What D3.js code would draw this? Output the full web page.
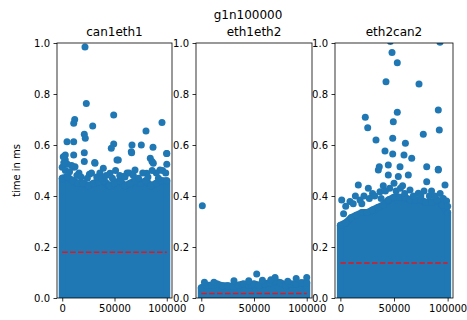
<!DOCTYPE html>
<html>
<head>
<meta charset="utf-8">
<script src="https://cdn.jsdelivr.net/npm/d3@7"></script>
<style>
  body { margin: 0; background: #fff; }
  svg { display: block; font-family: "DejaVu Sans", sans-serif; }
</style>
</head>
<body>
<div id="chart"></div>
<script>
// chart data
const suptitle = "g1n100000";
const panelNames = ["can1eth1", "eth1eth2", "eth2can2"];
const yTicks = [0, 0.2, 0.4, 0.6, 0.8, 1.0];
const xTicks = [0, 50000, 100000];

// upper edge of the dense cloud, sampled every 5000 samples
const bandX = [0, 5000, 10000, 15000, 20000, 25000, 30000, 35000, 40000, 45000, 50000,
  55000, 60000, 65000, 70000, 75000, 80000, 85000, 90000, 95000, 100000];
const can1eth1Band = [0.47, 0.475, 0.46, 0.45, 0.45, 0.44, 0.45, 0.455, 0.46, 0.44, 0.45,
  0.46, 0.44, 0.45, 0.46, 0.45, 0.46, 0.44, 0.45, 0.46, 0.46];
const eth1eth2Band = [0.04, 0.05, 0.05, 0.055, 0.048, 0.048, 0.045, 0.05, 0.055, 0.05, 0.055,
  0.05, 0.055, 0.06, 0.065, 0.06, 0.05, 0.055, 0.055, 0.06, 0.06];
const eth2can2Band = [0.285, 0.295, 0.315, 0.325, 0.335, 0.335, 0.345, 0.355, 0.365, 0.385, 0.395,
  0.395, 0.395, 0.385, 0.385, 0.385, 0.375, 0.375, 0.385, 0.365, 0.335];

// isolated samples above the cloud [sample, ms]
const can1eth1Points = [
  [21780, 0.984], [23030, 0.763], [11930, 0.70], [11000, 0.685], [49230, 0.718],
  [29150, 0.675], [95430, 0.688], [80130, 0.655], [21110, 0.642], [22070, 0.626],
  [4570, 0.613], [10970, 0.613], [49230, 0.604], [46940, 0.587], [66740, 0.60],
  [75640, 0.60], [86830, 0.591], [100000, 0.567], [66070, 0.574], [21110, 0.570],
  [2940, 0.561], [10970, 0.561], [52390, 0.541], [84240, 0.548], [21110, 0.535],
  [31050, 0.531], [2940, 0.541], [85870, 0.535], [100000, 0.525], [0, 0.513],
  [10970, 0.513], [1030, 0.554], [31350, 0.528], [39290, 0.509], [53630, 0.541],
  [66400, 0.570], [99890, 0.567], [87130, 0.528], [93520, 0.502], [12220, 0.515],
  [69610, 0.502], [80770, 0.489], [45700, 0.489], [58450, 0.476], [36000, 0.49],
  [16000, 0.49], [26000, 0.485], [62000, 0.49], [90000, 0.49],
  [3000, 0.50], [7000, 0.495], [9000, 0.52], [14000, 0.48], [18000, 0.475],
  [24000, 0.47], [28000, 0.49], [33000, 0.475], [38000, 0.47], [42000, 0.48],
  [48000, 0.47], [51000, 0.50], [55000, 0.48], [60000, 0.475], [64000, 0.49],
  [68000, 0.48], [73000, 0.47], [77000, 0.49], [82000, 0.475], [86000, 0.50],
  [92000, 0.47], [96000, 0.50], [99000, 0.49], [5000, 0.525], [1500, 0.53]
];
const eth1eth2Points = [
  [1000, 0.362], [52560, 0.094], [3000, 0.062], [12000, 0.062], [31000, 0.068],
  [45000, 0.068], [66000, 0.072], [70000, 0.08], [90000, 0.076], [100000, 0.08],
  [58000, 0.07], [82000, 0.066]
];
const eth2can2Points = [
  [48140, 0.963], [53080, 0.923], [42540, 0.848], [73310, 0.839], [92880, 1.003],
  [46600, 1.006], [23250, 0.709], [25480, 0.668], [53080, 0.728], [49350, 0.691],
  [91300, 0.737], [92230, 0.659], [33220, 0.620], [48790, 0.626], [77310, 0.642],
  [60620, 0.607], [41610, 0.576], [48790, 0.565], [59320, 0.561], [66500, 0.548],
  [36290, 0.515], [44690, 0.522], [55610, 0.515], [80490, 0.515], [91300, 0.505],
  [35390, 0.502], [44690, 0.482], [54020, 0.476], [63340, 0.482], [80490, 0.456],
  [91300, 0.502], [16720, 0.443], [26060, 0.430], [97540, 0.443], [1250, 0.384],
  [8980, 0.378], [18310, 0.384], [72670, 0.411], [64910, 0.424], [36950, 0.417],
  [50000, 0.45], [40000, 0.44], [58000, 0.44], [85000, 0.42], [30000, 0.41],
  [5000, 0.36], [12000, 0.37], [14000, 0.40], [20000, 0.37], [22000, 0.40],
  [27000, 0.39], [32000, 0.40], [38000, 0.39], [42000, 0.42], [46000, 0.43],
  [52000, 0.42], [56000, 0.43], [60000, 0.41], [68000, 0.40], [75000, 0.40],
  [78000, 0.42], [83000, 0.40], [88000, 0.40], [93000, 0.41], [96000, 0.39],
  [99000, 0.38], [100000, 0.36], [3000, 0.33]
];

// mean latency per link (red dashed line)
const meanValues = [0.179, 0.018, 0.137];

const bands = [can1eth1Band, eth1eth2Band, eth2can2Band];
const points = [can1eth1Points, eth1eth2Points, eth2can2Points];

const width = 467, height = 320;
const axesLeft = [57, 196, 335];
const axesRight = [172, 312, 453];
const plotTop = 43, plotBottom = 298;
const blue = "#1f77b4";

const svg = d3.select("#chart").append("svg")
  .attr("width", width)
  .attr("height", height);

svg.append("text")
  .attr("x", 248)
  .attr("y", 19)
  .attr("text-anchor", "middle")
  .style("font-size", "12px")
  .text(suptitle);

svg.append("text")
  .attr("transform", `translate(20,${(plotTop + plotBottom) / 2}) rotate(-90)`)
  .attr("text-anchor", "middle")
  .style("font-size", "10px")
  .text("time in ms");

panelNames.forEach((name, i) => {
  const xScale = d3.scaleLinear().domain([-5000, 105000]).range([axesLeft[i], axesRight[i]]);
  const yScale = d3.scaleLinear().domain([0, 1]).range([plotBottom, plotTop]);

  const g = svg.append("g");

  svg.append("clipPath")
    .attr("id", "clip" + i)
    .append("rect")
    .attr("x", axesLeft[i])
    .attr("y", plotTop)
    .attr("width", axesRight[i] - axesLeft[i])
    .attr("height", plotBottom - plotTop);

  const plot = g.append("g").attr("clip-path", `url(#clip${i})`);

  // dense cloud of samples
  const area = d3.area()
    .x((d, k) => xScale(bandX[k]))
    .y0(yScale(0))
    .y1(d => yScale(d));

  plot.append("path")
    .datum(bands[i])
    .attr("d", area)
    .attr("fill", blue)
    .attr("stroke", blue)
    .attr("stroke-width", 7)
    .attr("stroke-linejoin", "round");

  plot.selectAll(".edge")
    .data(bands[i])
    .enter()
    .append("circle")
    .attr("cx", (d, k) => xScale(bandX[k]))
    .attr("cy", d => yScale(d))
    .attr("r", 3.5)
    .attr("fill", blue);

  plot.selectAll(".pt")
    .data(points[i])
    .enter()
    .append("circle")
    .attr("cx", d => xScale(d[0]))
    .attr("cy", d => yScale(d[1]))
    .attr("r", 3.5)
    .attr("fill", blue);

  // mean line
  plot.append("line")
    .attr("x1", xScale(0))
    .attr("x2", xScale(100000))
    .attr("y1", yScale(meanValues[i]))
    .attr("y2", yScale(meanValues[i]))
    .attr("stroke", "#e8141c")
    .attr("stroke-width", 1.5)
    .attr("stroke-dasharray", "5.5,2.4");

  // axes
  const yAxis = g.append("g")
    .attr("transform", `translate(${axesLeft[i]},0)`)
    .call(d3.axisLeft(yScale).tickValues(yTicks).tickFormat(d3.format(".1f")).tickSize(3.5).tickPadding(3.5));
  const xAxis = g.append("g")
    .attr("transform", `translate(0,${plotBottom})`)
    .call(d3.axisBottom(xScale).tickValues(xTicks).tickFormat(d3.format("d")).tickSize(3.5).tickPadding(3.5));

  [yAxis, xAxis].forEach(ax => {
    ax.select(".domain").remove();
    ax.selectAll("line").attr("stroke", "#000").attr("stroke-width", 0.8);
    ax.selectAll("text")
      .style("font-size", "10px")
      .style("font-family", "DejaVu Sans, sans-serif")
      .attr("fill", "#000");
  });

  // spines
  g.append("rect")
    .attr("x", axesLeft[i])
    .attr("y", plotTop)
    .attr("width", axesRight[i] - axesLeft[i])
    .attr("height", plotBottom - plotTop)
    .attr("fill", "none")
    .attr("stroke", "#000")
    .attr("stroke-width", 0.8);

  g.append("text")
    .attr("x", (axesLeft[i] + axesRight[i]) / 2)
    .attr("y", 36)
    .attr("text-anchor", "middle")
    .style("font-size", "12px")
    .text(name);
});
</script>
</body>
</html>
